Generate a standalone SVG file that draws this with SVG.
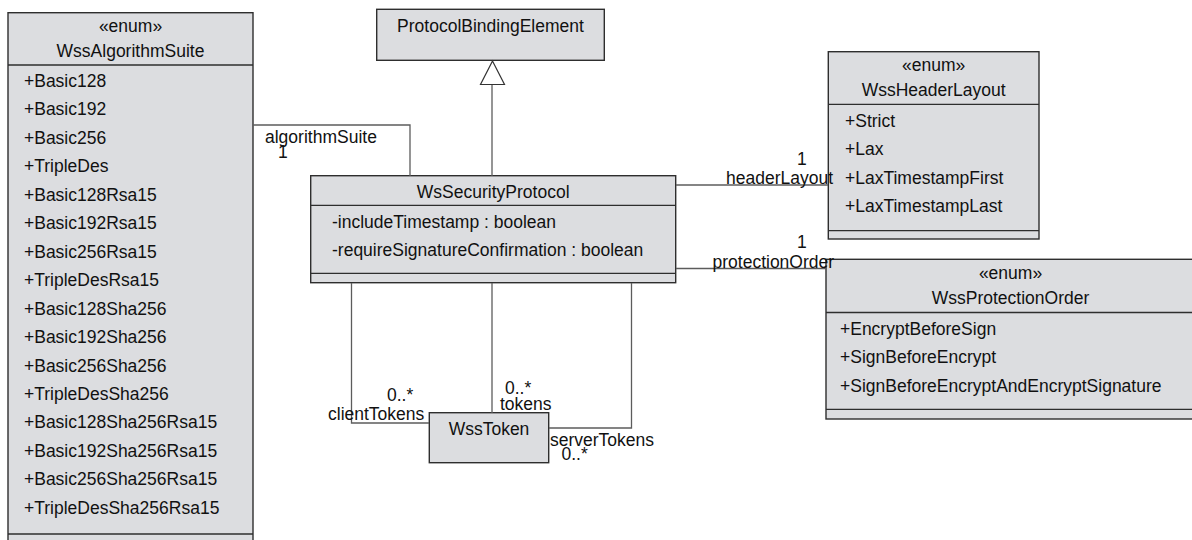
<svg xmlns="http://www.w3.org/2000/svg" width="1192" height="540" viewBox="0 0 1192 540">
  <style>
    .box { fill: #dcdde0; stroke: #2e2e2e; stroke-width: 1.4; }
    .div { stroke: #2e2e2e; stroke-width: 1.3; }
    .edge { fill: none; stroke: #5c5c5c; stroke-width: 1.3; }
    .gen { fill: #fff; stroke: #333; stroke-width: 1.2; }
    text { font-family: "Liberation Sans", Arial, sans-serif; font-size: 17.5px; fill: #111; }
    .c { text-anchor: middle; }
  </style>

  <!-- enum WssAlgorithmSuite -->
  <g id="WssAlgorithmSuite">
    <rect class="box" x="8" y="12.7" width="245" height="540"/>
    <line class="div" x1="8" y1="65" x2="253" y2="65"/>
    <line class="div" x1="8" y1="534" x2="253" y2="534"/>
    <text class="c" x="130.5" y="32">«enum»</text>
    <text class="c" x="130.5" y="57">WssAlgorithmSuite</text>
    <text x="24" y="87">+Basic128</text>
    <text x="24" y="115.45">+Basic192</text>
    <text x="24" y="143.9">+Basic256</text>
    <text x="24" y="172.35">+TripleDes</text>
    <text x="24" y="200.8">+Basic128Rsa15</text>
    <text x="24" y="229.25">+Basic192Rsa15</text>
    <text x="24" y="257.7">+Basic256Rsa15</text>
    <text x="24" y="286.15">+TripleDesRsa15</text>
    <text x="24" y="314.6">+Basic128Sha256</text>
    <text x="24" y="343.05">+Basic192Sha256</text>
    <text x="24" y="371.5">+Basic256Sha256</text>
    <text x="24" y="399.95">+TripleDesSha256</text>
    <text x="24" y="428.4">+Basic128Sha256Rsa15</text>
    <text x="24" y="456.85">+Basic192Sha256Rsa15</text>
    <text x="24" y="485.3">+Basic256Sha256Rsa15</text>
    <text x="24" y="513.75">+TripleDesSha256Rsa15</text>
  </g>

  <!-- class ProtocolBindingElement -->
  <g id="ProtocolBindingElement">
    <rect class="box" x="376.7" y="9.3" width="227.6" height="51"/>
    <text class="c" x="490.5" y="31.8">ProtocolBindingElement</text>
  </g>

  <!-- class WsSecurityProtocol -->
  <g id="WsSecurityProtocol">
    <rect class="box" x="310.7" y="175.7" width="365" height="107"/>
    <line class="div" x1="310.7" y1="205.3" x2="675.7" y2="205.3"/>
    <line class="div" x1="310.7" y1="273.3" x2="675.7" y2="273.3"/>
    <text class="c" x="493.2" y="198">WsSecurityProtocol</text>
    <text x="332" y="227.5">-includeTimestamp : boolean</text>
    <text x="332" y="256">-requireSignatureConfirmation : boolean</text>
  </g>

  <!-- enum WssHeaderLayout -->
  <g id="WssHeaderLayout">
    <rect class="box" x="828.3" y="51.7" width="210.7" height="187.3"/>
    <line class="div" x1="828.3" y1="104.3" x2="1039" y2="104.3"/>
    <line class="div" x1="828.3" y1="230.7" x2="1039" y2="230.7"/>
    <text class="c" x="933.7" y="71">«enum»</text>
    <text class="c" x="933.7" y="96">WssHeaderLayout</text>
    <text x="845" y="127">+Strict</text>
    <text x="845" y="155.3">+Lax</text>
    <text x="845" y="183.5">+LaxTimestampFirst</text>
    <text x="845" y="211.8">+LaxTimestampLast</text>
  </g>

  <!-- enum WssProtectionOrder -->
  <g id="WssProtectionOrder">
    <rect class="box" x="826" y="259.3" width="370" height="159.7"/>
    <line class="div" x1="826" y1="312.5" x2="1196" y2="312.5"/>
    <line class="div" x1="826" y1="409.3" x2="1196" y2="409.3"/>
    <text class="c" x="1010.5" y="279">«enum»</text>
    <text class="c" x="1010.5" y="304">WssProtectionOrder</text>
    <text x="840" y="334.5">+EncryptBeforeSign</text>
    <text x="840" y="363">+SignBeforeEncrypt</text>
    <text x="840" y="391.5">+SignBeforeEncryptAndEncryptSignature</text>
  </g>

  <!-- class WssToken -->
  <g id="WssToken">
    <rect class="box" x="429.3" y="412.7" width="119.4" height="50"/>
    <text class="c" x="489" y="435">WssToken</text>
  </g>

  <!-- associations and generalization, with their role names and multiplicities -->
  <g id="connectors">
    <polyline class="edge" points="253,125 410,125 410,176"/>
    <line class="edge" x1="492" y1="176" x2="492" y2="84.5"/>
    <polygon class="gen" points="492.5,61 480.5,84.5 504.5,84.5"/>
    <line class="edge" x1="676" y1="185" x2="828" y2="185"/>
    <line class="edge" x1="676" y1="268.5" x2="826" y2="268.5"/>
    <polyline class="edge" points="351.5,283 351.5,423 429,423"/>
    <line class="edge" x1="492" y1="283" x2="492" y2="413"/>
    <polyline class="edge" points="631.5,283 631.5,428 549,428"/>

    <text x="265" y="143">algorithmSuite</text>
    <text x="278" y="158">1</text>
    <text x="797" y="165">1</text>
    <text x="726" y="184">headerLayout</text>
    <text x="797" y="247.5">1</text>
    <text x="712.5" y="268">protectionOrder</text>
    <text x="387" y="401">0..*</text>
    <text x="328" y="420">clientTokens</text>
    <text x="505" y="394">0..*</text>
    <text x="500" y="410">tokens</text>
    <text x="550" y="446">serverTokens</text>
    <text x="561.5" y="460">0..*</text>
  </g>
</svg>
